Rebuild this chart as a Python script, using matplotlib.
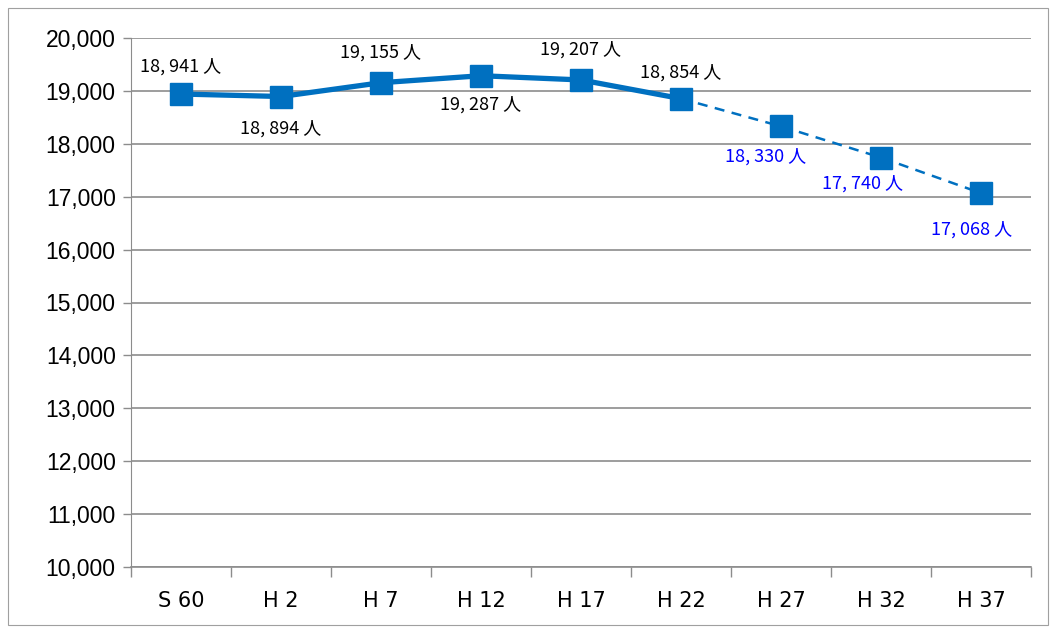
import matplotlib
matplotlib.use("Agg")
import matplotlib.pyplot as plt
from matplotlib.patches import Rectangle
from matplotlib.ticker import FuncFormatter, FixedLocator

categories = ["S 60", "H 2", "H 7", "H 12", "H 17", "H 22", "H 27", "H 32", "H 37"]
population = [18941, 18894, 19155, 19287, 19207, 18854, 18330, 17740, 17068]
n_actual = 6  # first six values are actual, remainder projections

# label placement (style only): (dx, dy) in points
label_offsets = [(0, 20), (0, -23), (0, 22), (0, -21), (0, 22), (0, 19),
                 (-11, -22), (-13, -19), (-7, -26)]

plt.rcParams['font.family'] = ['Noto Sans CJK JP', 'DejaVu Sans']

fig = plt.figure(figsize=(10.53, 6.30), dpi=100)
fig.patches.append(Rectangle((8/1053, 5/630), 1040/1053, 617/630, transform=fig.transFigure,
                             fill=False, edgecolor='#a0a0a0', linewidth=0.8))
ax = fig.add_axes([131/1053, 1 - 567/630, 900/1053, 529/630])

color = '#0070C0'
x = list(range(len(categories)))
ax.plot(x[:n_actual], population[:n_actual], color=color, lw=3.8, solid_joinstyle='round', zorder=3)
ax.plot(x[n_actual-1:], population[n_actual-1:], color=color, lw=1.8, ls=(0, (4, 3)), zorder=3)
ax.plot(x, population, ls='none', marker='s', ms=16.5, color=color, mec=color, zorder=4)

for i, v in enumerate(population):
    txt = f"{v:,}".replace(",", ", ") + " 人"
    c = 'black' if i < n_actual else '#0000FF'
    dx, dy = label_offsets[i]
    ax.annotate(txt, (i, v), xytext=(dx, dy), textcoords='offset points',
                ha='center', va='center', fontsize=13, color=c, zorder=5)

ax.set_xlim(-0.5, len(categories) - 0.5)
ax.set_ylim(10000, 20000)
ax.set_yticks(range(10000, 20001, 1000))
ax.yaxis.set_major_formatter(FuncFormatter(lambda v, p: f"{int(v):,}"))
ax.grid(axis='y', color='#8c8c8c', lw=1.2)
ax.set_axisbelow(True)

ax.xaxis.set_major_locator(FixedLocator(x))
ax.set_xticklabels(categories, fontsize=15, family=['Liberation Sans Narrow', 'DejaVu Sans'])
ax.xaxis.set_minor_locator(FixedLocator([i - 0.5 for i in range(len(categories) + 1)]))
ax.tick_params(axis='x', which='major', length=0, pad=17)
ax.tick_params(axis='x', which='minor', length=7, color='#8c8c8c', width=1)
ax.tick_params(axis='y', length=6, color='#8c8c8c', width=1, labelsize=16.5, pad=5)
for lbl in ax.get_yticklabels():
    lbl.set_family(['Liberation Sans', 'DejaVu Sans'])

for s in ['top', 'right']:
    ax.spines[s].set_visible(False)
ax.spines['left'].set_color('#8c8c8c')
ax.spines['bottom'].set_color('#8c8c8c')
ax.spines['bottom'].set_linewidth(1.2)

fig.savefig('out.png', dpi=100)
